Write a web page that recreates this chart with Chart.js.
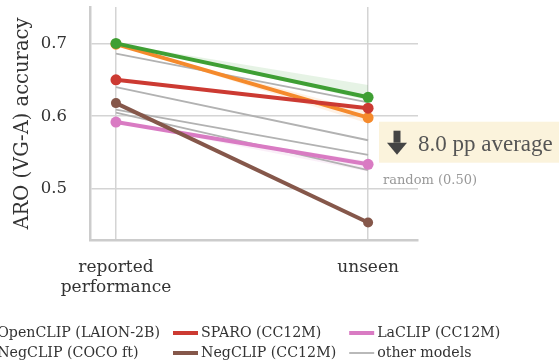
<!DOCTYPE html>
<html>
<head>
<meta charset="utf-8">
<script src="https://cdn.jsdelivr.net/npm/chart.js@4.4.1/dist/chart.umd.min.js"></script>
<style>
  body { margin: 0; background: #fff; }
  canvas { display: block; }
</style>
</head>
<body>
<canvas id="grafica" width="559" height="364"></canvas>
<script>
// categorias del eje x y marcas del eje y
const categories = ['reported performance', 'unseen'];
const yTicks = [0.5, 0.6, 0.7];

// precision ARO (VG-A) por modelo
const openclipLaion2b = [0.700, 0.626];
const negclipCocoFt = [0.699, 0.598];
const sparoCc12m = [0.650, 0.611];
const negclipCc12m = [0.618, 0.454];
const laclipCc12m = [0.592, 0.534];
const otherModels = [
  [0.686, 0.619],
  [0.640, 0.567],
  [0.609, 0.547],
  [0.605, 0.526]
];

// bandas de incertidumbre
const openclipBandHigh = [0.700, 0.643];
const openclipBandLow = [0.700, 0.622];
const negclipCocoBandHigh = [0.699, 0.606];
const negclipCocoBandLow = [0.699, 0.590];
const laclipBandHigh = [0.592, 0.538];
const laclipBandLow = [0.592, 0.524];

const averageDrop = '8.0 pp average';
const randomLabel = 'random (0.50)';

const FONT = "'DejaVu Serif', serif";

const pts = arr => arr.map((v, i) => ({ x: i, y: v }));

function linea(label, data, color, order, radius) {
  return {
    label: label,
    data: pts(data),
    borderColor: color,
    backgroundColor: color,
    borderWidth: 4,
    pointRadius: radius || 5.5,
    pointBorderWidth: 0,
    pointBackgroundColor: color,
    order: order
  };
}

function banda(high, low, color) {
  return [
    { label: '_band', data: pts(high), borderWidth: 0, pointRadius: 0, backgroundColor: color, fill: '+1', order: 20 },
    { label: '_band', data: pts(low), borderWidth: 0, pointRadius: 0, backgroundColor: color, fill: false, order: 20 }
  ];
}

const datasets = [
  linea('OpenCLIP (LAION-2B)', openclipLaion2b, '#3f9f34', 1),
  linea('NegCLIP (COCO ft)', negclipCocoFt, '#f58a2c', 2),
  linea('SPARO (CC12M)', sparoCc12m, '#cc3a32', 1.5),
  linea('NegCLIP (CC12M)', negclipCc12m, '#85574a', 3, 5),
  linea('LaCLIP (CC12M)', laclipCc12m, '#d97bc3', 3.5)
];
otherModels.forEach((m, i) => {
  datasets.push({
    label: i === 0 ? 'other models' : '_other',
    data: pts(m),
    borderColor: '#b2b2b2',
    backgroundColor: '#b2b2b2',
    borderWidth: 1.8,
    pointRadius: 0,
    order: 10
  });
});
datasets.push(...banda(openclipBandHigh, openclipBandLow, 'rgba(63,159,52,0.13)'));
datasets.push(...banda(negclipCocoBandHigh, negclipCocoBandLow, 'rgba(245,138,44,0.12)'));
datasets.push(...banda(laclipBandHigh, laclipBandLow, 'rgba(217,123,195,0.12)'));

// orden de la leyenda (por columnas)
const legendOrder = [
  'OpenCLIP (LAION-2B)', 'NegCLIP (COCO ft)',
  'SPARO (CC12M)', 'NegCLIP (CC12M)',
  'LaCLIP (CC12M)', 'other models'
];

const anotacion = {
  id: 'anotacion',
  afterDraw(chart) {
    const ctx = chart.ctx;
    const area = chart.chartArea;
    ctx.save();
    // caja
    const bx = area.right - 39, by = 121.7;
    ctx.fillStyle = '#fbf3dc';
    ctx.fillRect(bx, by, chart.width - bx, 41);
    // flecha hacia abajo
    ctx.fillStyle = '#444';
    const ax = bx + 18;
    ctx.fillRect(ax - 3.5, by + 9, 7, 12);
    ctx.beginPath();
    ctx.moveTo(ax - 10, by + 21);
    ctx.lineTo(ax + 10, by + 21);
    ctx.lineTo(ax, by + 33);
    ctx.closePath();
    ctx.fill();
    // texto
    ctx.fillStyle = '#555';
    ctx.font = "23px 'Liberation Serif', serif";
    ctx.textBaseline = 'alphabetic';
    ctx.textAlign = 'left';
    ctx.fillText(averageDrop, bx + 39, by + 29);
    ctx.fillStyle = '#999';
    ctx.font = '13px ' + FONT;
    ctx.fillText(randomLabel, bx + 4, 184);
    ctx.restore();
  }
};

const leyenda = {
  id: 'leyenda',
  afterDraw(chart) {
    const ctx = chart.ctx;
    ctx.save();
    ctx.font = '14.2px ' + FONT;
    ctx.textBaseline = 'middle';
    ctx.textAlign = 'left';
    const rows = [333, 353];
    const handle = 25, gapText = 3, gapCol = 13;
    // la segunda columna empieza en x=173; la primera queda recortada a la izquierda
    const w1 = Math.max(ctx.measureText(legendOrder[0]).width, ctx.measureText(legendOrder[1]).width);
    let x = 173 - gapCol - w1 - gapText - handle;
    for (let c = 0; c < legendOrder.length / 2; c++) {
      let ancho = 0;
      for (let r = 0; r < 2; r++) {
        const label = legendOrder[c * 2 + r];
        const ds = chart.data.datasets.find(d => d.label === label);
        ctx.strokeStyle = ds.borderColor;
        ctx.lineWidth = ds.borderWidth;
        ctx.beginPath();
        ctx.moveTo(x, rows[r]);
        ctx.lineTo(x + handle, rows[r]);
        ctx.stroke();
        ctx.fillStyle = '#333';
        ctx.fillText(label, x + handle + gapText, rows[r]);
        ancho = Math.max(ancho, ctx.measureText(label).width);
      }
      x += handle + gapText + ancho + gapCol;
    }
    ctx.restore();
  }
};

new Chart(document.getElementById('grafica'), {
  type: 'line',
  data: { datasets: datasets },
  options: {
    responsive: false,
    animation: false,
    layout: { autoPadding: false, padding: { top: 7, right: 141, left: 0, bottom: 0 } },
    plugins: {
      legend: { display: false },
      tooltip: { enabled: false }
    },
    scales: {
      x: {
        type: 'linear',
        min: -0.103,
        max: 1.198,
        afterBuildTicks: s => { s.ticks = categories.map((c, i) => ({ value: i })); },
        afterFit: s => { s.height = 124; s.paddingLeft = 0; s.paddingRight = 0; },
        ticks: {
          color: '#333',
          font: { family: FONT, size: 17 },
          padding: 17,
          maxRotation: 0,
          callback: v => {
            const c = categories[v];
            return c && c.includes(' ') ? c.split(' ') : c;
          }
        },
        grid: { color: '#d4d4d4', lineWidth: 1.5, drawTicks: false },
        border: { color: '#cccccc', width: 2.5 }
      },
      y: {
        min: 0.43,
        max: 0.75,
        afterBuildTicks: s => { s.ticks = yTicks.map(v => ({ value: v })); },
        afterFit: s => { s.width = 90; s.paddingTop = 0; s.paddingBottom = 0; },
        ticks: {
          color: '#333',
          font: { family: FONT, size: 16.5 },
          padding: 23,
          callback: v => v.toFixed(1)
        },
        title: {
          display: true,
          text: 'ARO (VG-A) accuracy',
          color: '#333',
          font: { family: FONT, size: 19.5 },
          padding: { top: 11, bottom: 0 }
        },
        grid: { color: '#d4d4d4', lineWidth: 1.5, drawTicks: false },
        border: { color: '#cccccc', width: 2.5 }
      }
    }
  },
  plugins: [anotacion, leyenda]
});
</script>
</body>
</html>
